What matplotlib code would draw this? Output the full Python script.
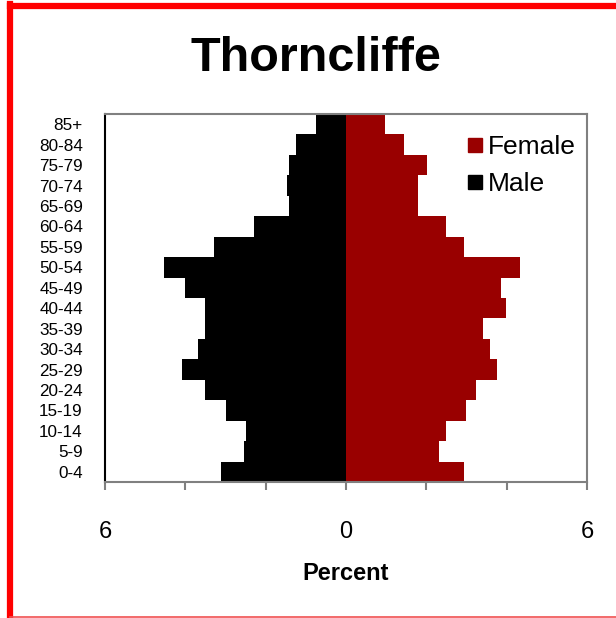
import numpy as np
import matplotlib
matplotlib.use("Agg")
import matplotlib.pyplot as plt
from matplotlib.lines import Line2D

plt.rcParams['font.family'] = ['Liberation Sans', 'DejaVu Sans']

# Age groups, bottom to top
age_groups = ["0-4", "5-9", "10-14", "15-19", "20-24", "25-29", "30-34", "35-39",
              "40-44", "45-49", "50-54", "55-59", "60-64", "65-69", "70-74",
              "75-79", "80-84", "85+"]

# Percent of population
male = [3.10, 2.53, 2.48, 2.99, 3.51, 4.08, 3.68, 3.52, 3.52, 4.02, 4.54,
        3.28, 2.29, 1.43, 1.48, 1.43, 1.25, 0.75]
female = [2.95, 2.31, 2.48, 2.99, 3.23, 3.75, 3.58, 3.41, 3.99, 3.87, 4.32,
          2.95, 2.48, 1.79, 1.79, 2.02, 1.44, 0.98]

x_ticks = [-6, -4, -2, 0, 2, 4, 6]
x_tick_labels = ["6", "", "", "0", "", "", "6"]

female_color = "#990000"
male_color = "#000000"

fig = plt.figure(figsize=(6.16, 6.18), dpi=100)
ax = fig.add_axes([105/616, 1-482/618, 482/616, 368/618])

y = np.arange(len(age_groups))
ax.barh(y, -np.array(male), height=1.0, color=male_color, label="Male")
ax.barh(y, female, height=1.0, color=female_color, label="Female")

ax.set_xlim(-6, 6)
ax.set_ylim(-0.5, len(age_groups) - 0.5)
ax.set_xticks(x_ticks)
ax.set_xticklabels(x_tick_labels, fontsize=17)
ax.set_yticks(y)
ax.set_yticklabels(age_groups, fontsize=12.3)
ax.tick_params(axis='y', length=0, pad=16)
ax.tick_params(axis='x', length=6, width=1.5, color='#808080', pad=22)

for side in ['top', 'right', 'bottom']:
    ax.spines[side].set_color('#808080')
    ax.spines[side].set_linewidth(1.5)
ax.spines['left'].set_color('black')
ax.spines['left'].set_linewidth(1.5)

ax.set_xlabel("Percent", fontsize=17, fontweight='bold', labelpad=14)

handles = [Line2D([], [], marker='s', linestyle='none', markersize=10.5,
                  color=female_color, label="Female"),
           Line2D([], [], marker='s', linestyle='none', markersize=10.5,
                  color=male_color, label="Male")]
ax.legend(handles=handles, loc='upper right', frameon=False, fontsize=19,
          handlelength=0.6, handletextpad=0.2, labelspacing=0.5,
          borderaxespad=0.3, bbox_to_anchor=(1.015, 0.993))

fig.text(316/616, 1-71/618, "Thorncliffe", fontsize=35, fontweight='bold',
         ha='center', va='baseline')

# red frame around the chart
fig.add_artist(Line2D([10/616, 1], [1-6/618, 1-6/618], color='red', linewidth=4.5))
fig.add_artist(Line2D([10/616, 10/616], [0, 1-4/618], color='red', linewidth=4.5))
fig.add_artist(Line2D([10/616, 1], [1-616.5/618, 1-616.5/618], color='#f05050', linewidth=1.2))

fig.savefig("out.png", dpi=100)
